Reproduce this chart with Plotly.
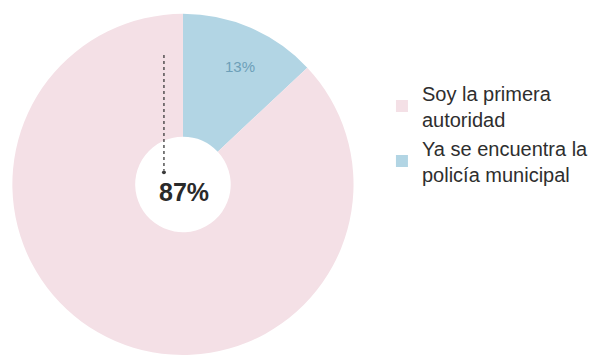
import plotly.graph_objects as go

labels = ["Ya se encuentra la<br>policía municipal", "Soy la primera<br>autoridad"]
values = [13, 87]
colors = ["#b2d5e4", "#f4e0e6"]
big_label = "87%"
small_label = "13%"

fig = go.Figure()
fig.add_trace(go.Pie(
    labels=labels, values=values, sort=False, direction="clockwise", rotation=0,
    hole=0.28, textinfo="none", hoverinfo="label+percent",
    marker=dict(colors=colors, line=dict(color="#ffffff", width=0)),
    domain=dict(x=[0.020, 0.596], y=[0.0, 0.961]),
))

# dotted pointer from the top of the pie down to the 87% label
fig.add_shape(type="line", xref="paper", yref="paper",
              x0=0.276, x1=0.276, y0=0.845, y1=0.52,
              line=dict(color="#3a3a3a", width=1.3, dash="dot"))
fig.add_shape(type="circle", xref="paper", yref="paper",
              x0=0.2727, x1=0.2793, y0=0.509, y1=0.52,
              fillcolor="#3a3a3a", line=dict(width=0))
fig.add_annotation(x=0.310, y=0.459, xref="paper", yref="paper", showarrow=False,
                   xanchor="center", yanchor="middle",
                   text="<b>%s</b>" % big_label,
                   font=dict(size=25, color="#2a2a2a", family="Liberation Sans"))
fig.add_annotation(x=0.404, y=0.814, xref="paper", yref="paper", showarrow=False,
                   xanchor="center", yanchor="middle",
                   text=small_label, font=dict(size=15, color="#6d9fb8", family="Liberation Sans"))

fig.update_layout(
    width=594, height=355, margin=dict(l=0, r=0, t=0, b=0),
    paper_bgcolor="#ffffff", plot_bgcolor="#ffffff",
    showlegend=True,
    legend=dict(x=0.643, y=0.793, xanchor="left", yanchor="top", traceorder="reversed",
                font=dict(size=20, color="#2e2e2e", family="Liberation Sans"),
                itemwidth=30, bgcolor="rgba(0,0,0,0)"),
)
fig.write_html("out.html", config={"displayModeBar": False},
               post_script="document.body.style.margin='0';")
